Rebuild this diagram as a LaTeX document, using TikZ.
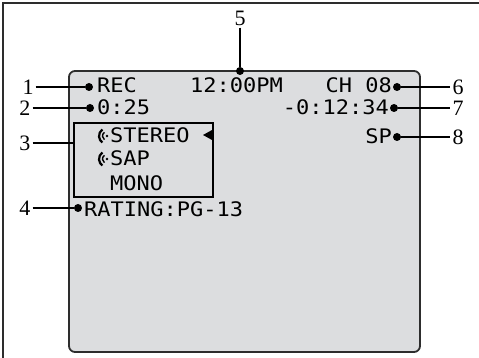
\documentclass[tikz,border=0pt]{standalone}
\usepackage{fontspec}
\setmainfont{Liberation Serif}
\newfontfamily\lcdfont[FakeStretch=1.1]{DejaVu Sans Mono}
\definecolor{lcdgray}{RGB}{220,221,223}
\definecolor{lcdedge}{RGB}{45,45,45}
\begin{document}
\begin{tikzpicture}[x=1pt,y=-1pt,
  lcdtext/.style={inner sep=0pt,font=\lcdfont\fontsize{20}{20}\selectfont},
  numlabel/.style={inner sep=2pt,font=\fontsize{22}{22}\selectfont},
  leader/.style={line width=1.6pt,black},
  blob/.style={circle,fill=black,inner sep=0pt,minimum size=8pt}]
\useasboundingbox (0,0) rectangle (479,358);
% frame and screen
\draw[line width=2.2pt,lcdedge] (3,358) -- (3,3) -- (479,3);
\draw[line width=1.8pt,lcdedge,fill=lcdgray,rounded corners=6pt] (69,71) rectangle (420,352);
% coordinates
\coordinate (icoStereo) at (107,136);
\coordinate (icoSap)    at (107,159);
% screen texts
\node[lcdtext,anchor=base west] (rec)     at ( 97, 93) {REC};
\node[lcdtext,anchor=base west] (clock)   at (190, 93) {12:00PM};
\node[lcdtext,anchor=base east] (chan)    at (392, 93) {CH 08};
\node[lcdtext,anchor=base west] (elapsed) at ( 97,115) {0:25};
\node[lcdtext,anchor=base east] (remain)  at (389,115) {-0:12:34};
\node[lcdtext,anchor=base west] (stereo)  at (110,143) {STEREO};
\node[lcdtext,anchor=base west] (sap)     at (110,166) {SAP};
\node[lcdtext,anchor=base west] (mono)    at (110,191) {MONO};
\node[lcdtext,anchor=base east] (speed)   at (392,144) {SP};
\node[lcdtext,anchor=base west] (rating)  at ( 84,216) {RATING:PG-13};
% audio box
\node[draw,line width=1.8pt,minimum width=139pt,minimum height=74pt,anchor=north west] (audiobox) at (73,122) {};
\fill (203,135) -- (212,130) -- (212,140) -- cycle;
\foreach \ic in {icoStereo,icoSap} {
  \draw[line width=2.2pt] ([shift={(125:8pt)}]\ic) arc[start angle=125,end angle=235,radius=8pt];
  \draw[line width=1.4pt] ([shift={(125:4.5pt)}]\ic) arc[start angle=125,end angle=235,radius=4.5pt];
  \fill (\ic) circle (1.4pt);
}
% dots
\node[blob] (dot1) at ( 89, 87) {};
\node[blob] (dot2) at ( 90,108) {};
\node[blob] (dot4) at ( 78,208) {};
\node[blob] (dot5) at (240, 71) {};
\node[blob] (dot6) at (397, 87) {};
\node[blob] (dot7) at (394,108) {};
\node[blob] (dot8) at (397,137) {};
% callout numbers
\node[numlabel] (lbl1) at ( 28, 87) {1};
\node[numlabel] (lbl2) at ( 25,108) {2};
\node[numlabel] (lbl3) at ( 25,143) {3};
\node[numlabel] (lbl4) at ( 25,208) {4};
\node[numlabel] (lbl5) at (240, 18) {5};
\node[numlabel] (lbl6) at (458, 87) {6};
\node[numlabel] (lbl7) at (458,108) {7};
\node[numlabel] (lbl8) at (458,137) {8};
% leaders
\draw[leader] (lbl1) -- (dot1);
\draw[leader] (lbl2) -- (dot2);
\draw[leader] (lbl3) -- (lbl3 -| audiobox.west);
\draw[leader] (lbl4) -- (dot4);
\draw[leader] (lbl5) -- (dot5);
\draw[leader] (dot6) -- (lbl6);
\draw[leader] (dot7) -- (lbl7);
\draw[leader] (dot8) -- (lbl8);
\end{tikzpicture}
\end{document}
